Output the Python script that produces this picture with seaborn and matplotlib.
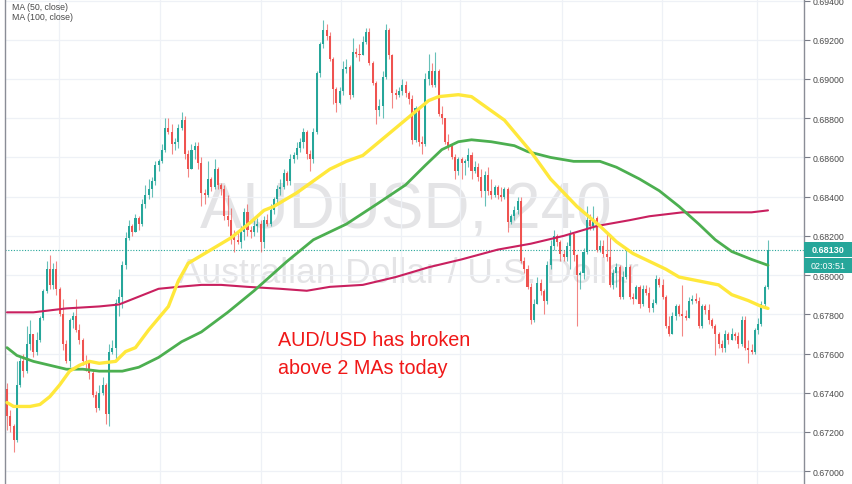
import numpy as np
import pandas as pd
import matplotlib
matplotlib.use("Agg")
import matplotlib.pyplot as plt
import matplotlib.font_manager as fm
from matplotlib.patches import Rectangle
import seaborn as sns

# Configuration
OUT_FILE = "out.png"
UP_COLOR = "#26a69a"
DOWN_COLOR = "#ef5350"
MA50_COLOR = "#ffe83b"
MA100_COLOR = "#4caf50"
MA200_COLOR = "#c9205f"
TEXT_GRAY = "#4a4a4a"

# AUD/USD 240 min candles (first open, then close / high / low per bar)
FIRST_OPEN = 0.6742
CLOSE = [
    0.6728, 0.6723, 0.6716, 0.6744, 0.6756, 0.6751, 0.6765, 0.6770, 0.6761, 0.6767,
    0.6778, 0.6792, 0.6803, 0.6795, 0.6803, 0.6793, 0.6780, 0.6765, 0.6756, 0.6777,
    0.6779, 0.6772, 0.6767, 0.6756, 0.6755, 0.6750, 0.6739, 0.6732, 0.6740, 0.6744,
    0.6729, 0.6761, 0.6763, 0.6786, 0.6789, 0.6805, 0.6819, 0.6825, 0.6822,
    0.6829, 0.6826, 0.6836, 0.6841, 0.6844, 0.6848, 0.6856, 0.6858, 0.6864, 0.6875,
    0.6873, 0.6867, 0.6868, 0.6875, 0.6879, 0.6862, 0.6854, 0.6864, 0.6866, 0.6857,
    0.6842, 0.6841, 0.6849, 0.6845, 0.6854, 0.6846, 0.6844, 0.6830, 0.6828, 0.6820,
    0.6818, 0.6817, 0.6822, 0.6832, 0.6823, 0.6822, 0.6825, 0.6826, 0.6817, 0.6828,
    0.6826,
    0.6833, 0.6839, 0.6844, 0.6845, 0.6852, 0.6848, 0.6859, 0.6861, 0.6865, 0.6868,
    0.6873, 0.6862, 0.6859, 0.6873, 0.6903, 0.6918, 0.6925, 0.6922, 0.6910, 0.6895,
    0.6888, 0.6894, 0.6905, 0.6906, 0.6892, 0.6914, 0.6913, 0.6912, 0.6919, 0.6924,
    0.6908, 0.6898, 0.6884, 0.6886, 0.6901, 0.6925, 0.6912, 0.6893, 0.6892, 0.6894,
    0.6897, 0.6893, 0.6890, 0.6869, 0.6885, 0.6868, 0.6867, 0.6900, 0.6904, 0.6897,
    0.6904, 0.6882, 0.6880, 0.6868, 0.6866,
    0.6860, 0.6853, 0.6859, 0.6857, 0.6858, 0.6861, 0.6853, 0.6855, 0.6850, 0.6843,
    0.6851, 0.6843, 0.6841, 0.6845, 0.6841, 0.6840, 0.6844, 0.6827, 0.6830, 0.6833,
    0.6838, 0.6807, 0.6803, 0.6794, 0.6777,
    0.6785, 0.6796, 0.6792, 0.6787, 0.6805, 0.6815, 0.6820, 0.6817, 0.6811, 0.6809,
    0.6815, 0.6821, 0.6810, 0.6800, 0.6801, 0.6812, 0.6828, 0.6825, 0.6829, 0.6813,
    0.6815, 0.6811, 0.6809, 0.6795, 0.6801, 0.6804, 0.6789, 0.6799, 0.6804, 0.6789,
    0.6788, 0.6794, 0.6785, 0.6793, 0.6791, 0.6783, 0.6786, 0.6798,
    0.6795, 0.6789, 0.6774, 0.6770, 0.6779, 0.6784, 0.6780, 0.6779, 0.6778, 0.6787,
    0.6788, 0.6787, 0.6774, 0.6784, 0.6782, 0.6777, 0.6774, 0.6770, 0.6765, 0.6763,
    0.6770, 0.6767, 0.6770, 0.6769, 0.6765, 0.6777, 0.6763, 0.6762, 0.6761, 0.6772,
    0.6775, 0.6785, 0.6794, 0.6813,
]
HIGH = [
    0.6745, 0.6731, 0.6724, 0.6756, 0.6758, 0.6760, 0.6774, 0.6777, 0.6770, 0.6771,
    0.6779, 0.6793, 0.6807, 0.6810, 0.6806, 0.6807, 0.6794, 0.6788, 0.6767, 0.6778,
    0.6781, 0.6788, 0.6775, 0.6768, 0.6759, 0.6756, 0.6752, 0.6741, 0.6744, 0.6748,
    0.6745, 0.6765, 0.6767, 0.6788, 0.6793, 0.6807, 0.6822, 0.6828, 0.6826,
    0.6831, 0.6830, 0.6839, 0.6846, 0.6849, 0.6850, 0.6858, 0.6859, 0.6867, 0.6880,
    0.6880, 0.6877, 0.6870, 0.6877, 0.6883, 0.6881, 0.6864, 0.6867, 0.6868, 0.6868,
    0.6860, 0.6844, 0.6858, 0.6850, 0.6859, 0.6855, 0.6847, 0.6846, 0.6841, 0.6834,
    0.6823, 0.6822, 0.6825, 0.6834, 0.6836, 0.6825, 0.6828, 0.6829, 0.6828, 0.6830,
    0.6831,
    0.6836, 0.6840, 0.6846, 0.6849, 0.6854, 0.6853, 0.6862, 0.6863, 0.6868, 0.6870,
    0.6875, 0.6874, 0.6864, 0.6875, 0.6904, 0.6919, 0.6930, 0.6928, 0.6924, 0.6911,
    0.6896, 0.6896, 0.6909, 0.6910, 0.6907, 0.6921, 0.6916, 0.6918, 0.6922, 0.6926,
    0.6926, 0.6909, 0.6899, 0.6890, 0.6904, 0.6928, 0.6926, 0.6913, 0.6895, 0.6896,
    0.6900, 0.6899, 0.6894, 0.6892, 0.6886, 0.6885, 0.6871, 0.6903, 0.6913, 0.6908,
    0.6914, 0.6905, 0.6886, 0.6880, 0.6872,
    0.6867, 0.6862, 0.6860, 0.6860, 0.6859, 0.6865, 0.6863, 0.6858, 0.6857, 0.6854,
    0.6853, 0.6855, 0.6849, 0.6846, 0.6846, 0.6845, 0.6845, 0.6845, 0.6831, 0.6835,
    0.6840, 0.6840, 0.6809, 0.6805, 0.6796,
    0.6788, 0.6799, 0.6798, 0.6793, 0.6807, 0.6818, 0.6823, 0.6821, 0.6818, 0.6813,
    0.6817, 0.6823, 0.6821, 0.6811, 0.6802, 0.6814, 0.6835, 0.6831, 0.6835, 0.6830,
    0.6818, 0.6818, 0.6821, 0.6821, 0.6803, 0.6806, 0.6805, 0.6802, 0.6813, 0.6805,
    0.6791, 0.6795, 0.6795, 0.6795, 0.6795, 0.6794, 0.6788, 0.6800,
    0.6799, 0.6798, 0.6790, 0.6779, 0.6781, 0.6785, 0.6785, 0.6795, 0.6782, 0.6789,
    0.6790, 0.6791, 0.6789, 0.6785, 0.6785, 0.6785, 0.6778, 0.6775, 0.6771, 0.6767,
    0.6772, 0.6771, 0.6773, 0.6771, 0.6771, 0.6779, 0.6779, 0.6767, 0.6765, 0.6773,
    0.6778, 0.6787, 0.6795, 0.6818,
]
LOW = [
    0.6721, 0.6720, 0.6710, 0.6715, 0.6743, 0.6748, 0.6750, 0.6762, 0.6758, 0.6759,
    0.6766, 0.6777, 0.6791, 0.6793, 0.6793, 0.6790, 0.6779, 0.6762, 0.6755, 0.6753,
    0.6773, 0.6771, 0.6765, 0.6754, 0.6751, 0.6747, 0.6738, 0.6730, 0.6731, 0.6739,
    0.6724, 0.6723, 0.6760, 0.6757, 0.6779, 0.6783, 0.6803, 0.6818, 0.6820,
    0.6822, 0.6823, 0.6825, 0.6834, 0.6839, 0.6840, 0.6846, 0.6853, 0.6857, 0.6863,
    0.6872, 0.6862, 0.6864, 0.6865, 0.6874, 0.6859, 0.6850, 0.6854, 0.6859, 0.6854,
    0.6835, 0.6836, 0.6840, 0.6843, 0.6844, 0.6844, 0.6841, 0.6828, 0.6825, 0.6816,
    0.6812, 0.6816, 0.6814, 0.6818, 0.6820, 0.6819, 0.6820, 0.6822, 0.6812, 0.6814,
    0.6825,
    0.6825, 0.6831, 0.6837, 0.6841, 0.6844, 0.6846, 0.6846, 0.6857, 0.6859, 0.6863,
    0.6865, 0.6859, 0.6853, 0.6857, 0.6872, 0.6901, 0.6916, 0.6920, 0.6909, 0.6887,
    0.6883, 0.6887, 0.6892, 0.6903, 0.6890, 0.6891, 0.6911, 0.6909, 0.6912, 0.6918,
    0.6907, 0.6897, 0.6877, 0.6881, 0.6880, 0.6900, 0.6910, 0.6885, 0.6890, 0.6891,
    0.6892, 0.6891, 0.6887, 0.6867, 0.6868, 0.6866, 0.6862, 0.6866, 0.6897, 0.6896,
    0.6896, 0.6881, 0.6877, 0.6867, 0.6864,
    0.6859, 0.6849, 0.6851, 0.6849, 0.6851, 0.6855, 0.6849, 0.6852, 0.6848, 0.6840,
    0.6835, 0.6841, 0.6839, 0.6840, 0.6839, 0.6838, 0.6839, 0.6822, 0.6826, 0.6828,
    0.6831, 0.6806, 0.6801, 0.6793, 0.6775,
    0.6776, 0.6785, 0.6790, 0.6780, 0.6785, 0.6803, 0.6813, 0.6815, 0.6807, 0.6807,
    0.6807, 0.6803, 0.6807, 0.6774, 0.6793, 0.6798, 0.6811, 0.6823, 0.6823, 0.6812,
    0.6812, 0.6809, 0.6807, 0.6794, 0.6793, 0.6794, 0.6788, 0.6788, 0.6798, 0.6788,
    0.6785, 0.6788, 0.6783, 0.6784, 0.6790, 0.6781, 0.6781, 0.6785,
    0.6794, 0.6788, 0.6773, 0.6769, 0.6770, 0.6777, 0.6779, 0.6769, 0.6777, 0.6778,
    0.6785, 0.6786, 0.6773, 0.6773, 0.6780, 0.6775, 0.6773, 0.6759, 0.6763, 0.6761,
    0.6761, 0.6765, 0.6767, 0.6767, 0.6763, 0.6764, 0.6762, 0.6755, 0.6760, 0.6760,
    0.6770, 0.6774, 0.6784, 0.6793,
]

# Moving averages (bar index, value)
MA50_BAR = [0, 2, 7, 10, 13, 16, 19, 22, 25, 28, 33, 36, 39, 43, 49, 52, 55, 58, 62, 68,
            74, 78, 81, 88, 93, 98, 103, 108, 113, 118, 123, 128, 131, 137, 141, 146, 151,
            154, 157, 159, 165, 173, 180, 185, 190, 195, 200, 204, 210, 216, 220, 225, 229, 231]
MA50 = [0.6735, 0.6733, 0.6733, 0.6734, 0.6738, 0.6744, 0.6751, 0.6754, 0.6756, 0.6755,
        0.6756, 0.6761, 0.6763, 0.6772, 0.6784, 0.6797, 0.6806, 0.6809, 0.6813, 0.6819,
        0.6827, 0.6833, 0.6835, 0.6842, 0.6848, 0.6854, 0.6858, 0.6861, 0.6868, 0.6875,
        0.6882, 0.6889, 0.6891, 0.6892, 0.6891, 0.6885, 0.6879, 0.6873, 0.6867, 0.6863,
        0.6849, 0.6835, 0.6825, 0.6817, 0.6811, 0.6807, 0.6803, 0.6799, 0.6797, 0.6795,
        0.6790, 0.6787, 0.6784, 0.6783]
MA100_BAR = [0, 3, 8, 13, 18, 23, 28, 35, 40, 46, 53, 59, 67, 75, 85, 93, 103, 113, 121, 127,
             132, 137, 141, 147, 154, 158, 165, 172, 180, 185, 192, 198, 204, 210, 215, 220, 226, 231]
MA100 = [0.6763, 0.6759, 0.6756, 0.6754, 0.6752, 0.6752, 0.6751, 0.6751, 0.6753, 0.6758,
         0.6766, 0.6771, 0.6781, 0.6792, 0.6807, 0.6818, 0.6826, 0.6837, 0.6846, 0.6856,
         0.6864, 0.6868, 0.6869, 0.6868, 0.6866, 0.6863, 0.6860, 0.6858, 0.6858, 0.6855,
         0.6849, 0.6843, 0.6835, 0.6826, 0.6818, 0.6812, 0.6808, 0.6805]
MA200_BAR = [0, 8, 18, 28, 34, 40, 46, 52, 59, 65, 73, 83, 91, 98, 108, 118, 128, 138, 149,
             159, 169, 179, 189, 195, 205, 216, 226, 231]
MA200 = [0.6781, 0.6781, 0.6783, 0.6784, 0.6785, 0.6789, 0.6793, 0.6794, 0.6795, 0.6795,
         0.6794, 0.6793, 0.6792, 0.6794, 0.6795, 0.6799, 0.6804, 0.6808, 0.6813, 0.6816,
         0.6820, 0.6825, 0.6828, 0.6830, 0.6832, 0.6832, 0.6832, 0.6833]

Y_TICKS = [0.670, 0.672, 0.674, 0.676, 0.678, 0.680, 0.682, 0.684, 0.686, 0.688,
           0.690, 0.692, 0.694]
DAY_GRID = [15.8, 46.4, 77.1, 101.4, 119.6, 137.5, 168.5, 198.9, 227.7]
LEGEND_LABELS = ["MA (50, close)", "MA (100, close)"]
NOTE_LINES = ["AUD/USD has broken", "above 2 MAs today"]
TIMER = "02:03:51"

# Setup Plotting Style
sns.set_theme(style="white")
plt.rcParams["font.family"] = ["Liberation Sans", "DejaVu Sans"]

W, H = 852, 485
fig = plt.figure(figsize=(W / 100, H / 100), dpi=100)
ax = fig.add_axes([5 / W, 0, 799 / W, 1])

df = pd.DataFrame({"close": CLOSE, "high": HIGH, "low": LOW})
df["open"] = [FIRST_OPEN] + CLOSE[:-1]
df["up"] = df["close"] >= df["open"]
colors = np.where(df["up"], UP_COLOR, DOWN_COLOR)

# watermark
font_names = {f.name for f in fm.fontManager.ttflist}
if "Liberation Sans Narrow" in font_names:
    wm_family, wm_size = "Liberation Sans Narrow", 55
else:
    wm_family, wm_size = "Liberation Sans", 46
ax.text(0.502, 1 - 229 / H, "AUDUSD, 240", transform=ax.transAxes, ha="center",
        va="baseline", fontsize=wm_size, family=wm_family, color="#787b86", alpha=0.2, zorder=0)
ax.text(0.505, 1 - 283 / H, "Australian Dollar / U.S. Dollar", transform=ax.transAxes,
        ha="center", va="baseline", fontsize=25.5, color="#787b86", alpha=0.2, zorder=0)

# candles
ax.vlines(df.index, df["low"], df["high"], colors=colors, lw=0.8, alpha=0.7, zorder=2)
body_low = np.minimum(df["open"], df["close"])
body_h = np.maximum((df["close"] - df["open"]).abs(), 0.00004)
ax.bar(df.index, body_h, bottom=body_low, width=0.62, color=colors, lw=0, zorder=3)

# moving averages
sns.lineplot(x=MA200_BAR, y=MA200, ax=ax, color=MA200_COLOR, lw=1.5, zorder=4)
sns.lineplot(x=MA100_BAR, y=MA100, ax=ax, color=MA100_COLOR, lw=2.0, zorder=5)
sns.lineplot(x=MA50_BAR, y=MA50, ax=ax, color=MA50_COLOR, lw=2.4, zorder=6)

# last price line
last = CLOSE[-1]
ax.axhline(last, color=UP_COLOR, lw=0.8, ls=(0, (1, 1.5)), zorder=1)

n = len(CLOSE)
spacing = 761 / (n - 1)
ax.set_xlim(-2 / spacing, 797 / spacing)
ax.set_ylim(0.69408 - 485 * 0.000051, 0.69408)

ax.yaxis.tick_right()
ax.set_yticks(Y_TICKS)
ax.set_yticklabels([f"{t:.5f}" for t in Y_TICKS])
ax.tick_params(axis="y", length=4, width=0.8, color="#787b86", labelsize=6.3,
               labelcolor=TEXT_GRAY, pad=2)
ax.set_xticks(DAY_GRID)
ax.set_xticklabels([])
ax.tick_params(axis="x", length=0)
ax.grid(True, color="#eef1f6", lw=0.9)
ax.set_axisbelow(True)
ax.set_xlabel("")
ax.set_ylabel("")
for side in ["top", "bottom"]:
    ax.spines[side].set_visible(False)
for side in ["left", "right"]:
    ax.spines[side].set_color("#8a8d96")
    ax.spines[side].set_linewidth(1.0)

# legend text, top-left
for k, lab in enumerate(LEGEND_LABELS):
    fig.text(12 / W, 1 - (7 + 10 * k) / H, lab, fontsize=6.3, color=TEXT_GRAY, va="center")

# price tags on the right axis
_, y_pix = ax.transData.transform((0, last))
fig.add_artist(Rectangle((804 / W, (y_pix - 7.5) / H), 48 / W, 15 / H,
                         transform=fig.transFigure, color=UP_COLOR, lw=0))
fig.add_artist(Rectangle((804 / W, (y_pix - 23) / H), 48 / W, 14.5 / H,
                         transform=fig.transFigure, color=UP_COLOR, lw=0))
fig.text(828 / W, y_pix / H, f"{last:.5f}", ha="center", va="center",
         fontsize=6.5, color="white", weight="bold")
fig.text(828 / W, (y_pix - 15.5) / H, TIMER, ha="center", va="center",
         fontsize=6.5, color="white")

# annotation
fig.text(278 / W, 1 - 346 / H, NOTE_LINES[0], fontsize=14.2, color="#f01818", va="baseline")
fig.text(278 / W, 1 - 374 / H, NOTE_LINES[1], fontsize=14.2, color="#f01818", va="baseline")

fig.savefig(OUT_FILE, dpi=100)
plt.close(fig)
